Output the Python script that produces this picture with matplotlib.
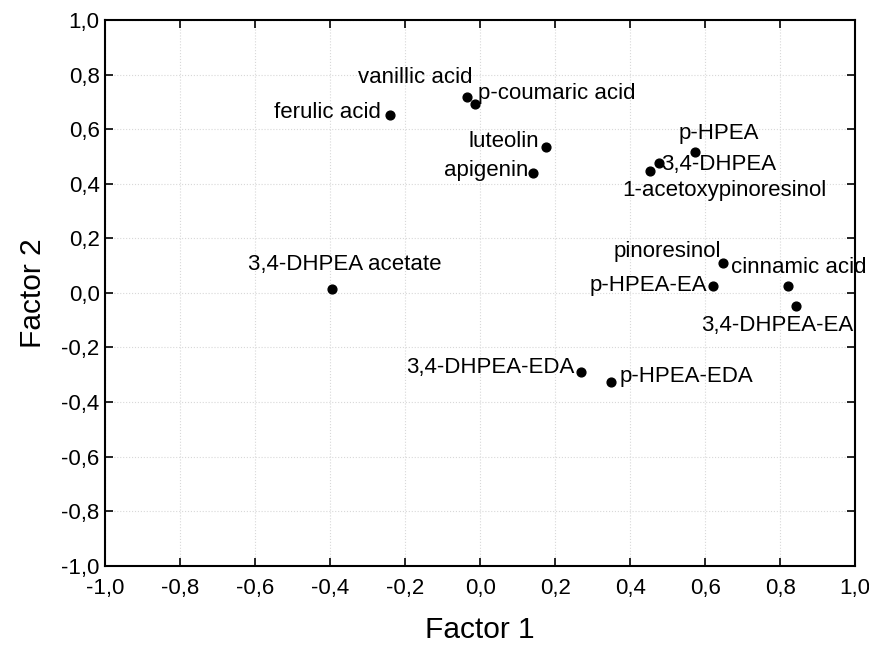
import matplotlib
matplotlib.use('Agg')
import matplotlib.pyplot as plt
from matplotlib.ticker import FuncFormatter, MultipleLocator

plt.rcParams['font.family'] = ['Liberation Sans', 'DejaVu Sans']

# loadings
names = ['vanillic acid', 'p-coumaric acid', 'ferulic acid', 'luteolin', 'apigenin',
         'p-HPEA', '3,4-DHPEA', '1-acetoxypinoresinol', 'pinoresinol', 'cinnamic acid',
         'p-HPEA-EA', '3,4-DHPEA-EA', '3,4-DHPEA acetate', '3,4-DHPEA-EDA', 'p-HPEA-EDA']
factor1 = [-0.035, -0.014, -0.240, 0.175, 0.142,
           0.572, 0.476, 0.453, 0.648, 0.821,
           0.621, 0.843, -0.396, 0.270, 0.350]
factor2 = [0.718, 0.691, 0.651, 0.533, 0.440,
           0.517, 0.477, 0.446, 0.108, 0.026,
           0.026, -0.049, 0.014, -0.292, -0.326]

# label placement: (dx, dy in points, horizontal alignment)
label_pos = [(4, 14, 'right'), (2, 8, 'left'), (-7, 2, 'right'), (-5, 4, 'right'), (-3.5, 1.5, 'right'),
             (17, 13, 'center'), (1.5, -1.5, 'left'), (-20, -14, 'left'), (-1.5, 8.5, 'right'), (-41, 13, 'left'),
             (-4.5, 0, 'right'), (-14, -14, 'center'), (9.5, 18, 'center'), (-5, 3.5, 'right'), (6, 3.5, 'left')]

fig = plt.figure(figsize=(8.7, 6.45), dpi=100)
ax = fig.add_axes([0.121, 0.123, 0.862, 0.846])

ax.scatter(factor1, factor2, s=40, color='black', zorder=3)

for name, x, y, (dx, dy, ha) in zip(names, factor1, factor2, label_pos):
    ax.annotate(name, (x, y), xytext=(dx, dy), textcoords='offset points',
                ha=ha, va='center', fontsize=16, color='black', annotation_clip=False)

ax.set_xlim(-1, 1)
ax.set_ylim(-1, 1)
ax.xaxis.set_major_locator(MultipleLocator(0.2))
ax.yaxis.set_major_locator(MultipleLocator(0.2))
fmt = FuncFormatter(lambda v, p: ('%.1f' % v).replace('.', ',').replace('-0,0', '0,0'))
ax.xaxis.set_major_formatter(fmt)
ax.yaxis.set_major_formatter(fmt)

ax.grid(True, color='#d8d8d8', linestyle=':', linewidth=0.8)
ax.set_axisbelow(True)
ax.tick_params(direction='in', length=6, width=1.2, top=True, right=True, labelsize=16)
ax.tick_params(axis='x', pad=9)
ax.tick_params(axis='y', pad=4)
for sp in ax.spines.values():
    sp.set_linewidth(1.5)

ax.set_xlabel('Factor 1', fontsize=21.5, labelpad=12)
ax.set_ylabel('Factor 2', fontsize=21.5, labelpad=10)

fig.savefig('out.png', dpi=100)
